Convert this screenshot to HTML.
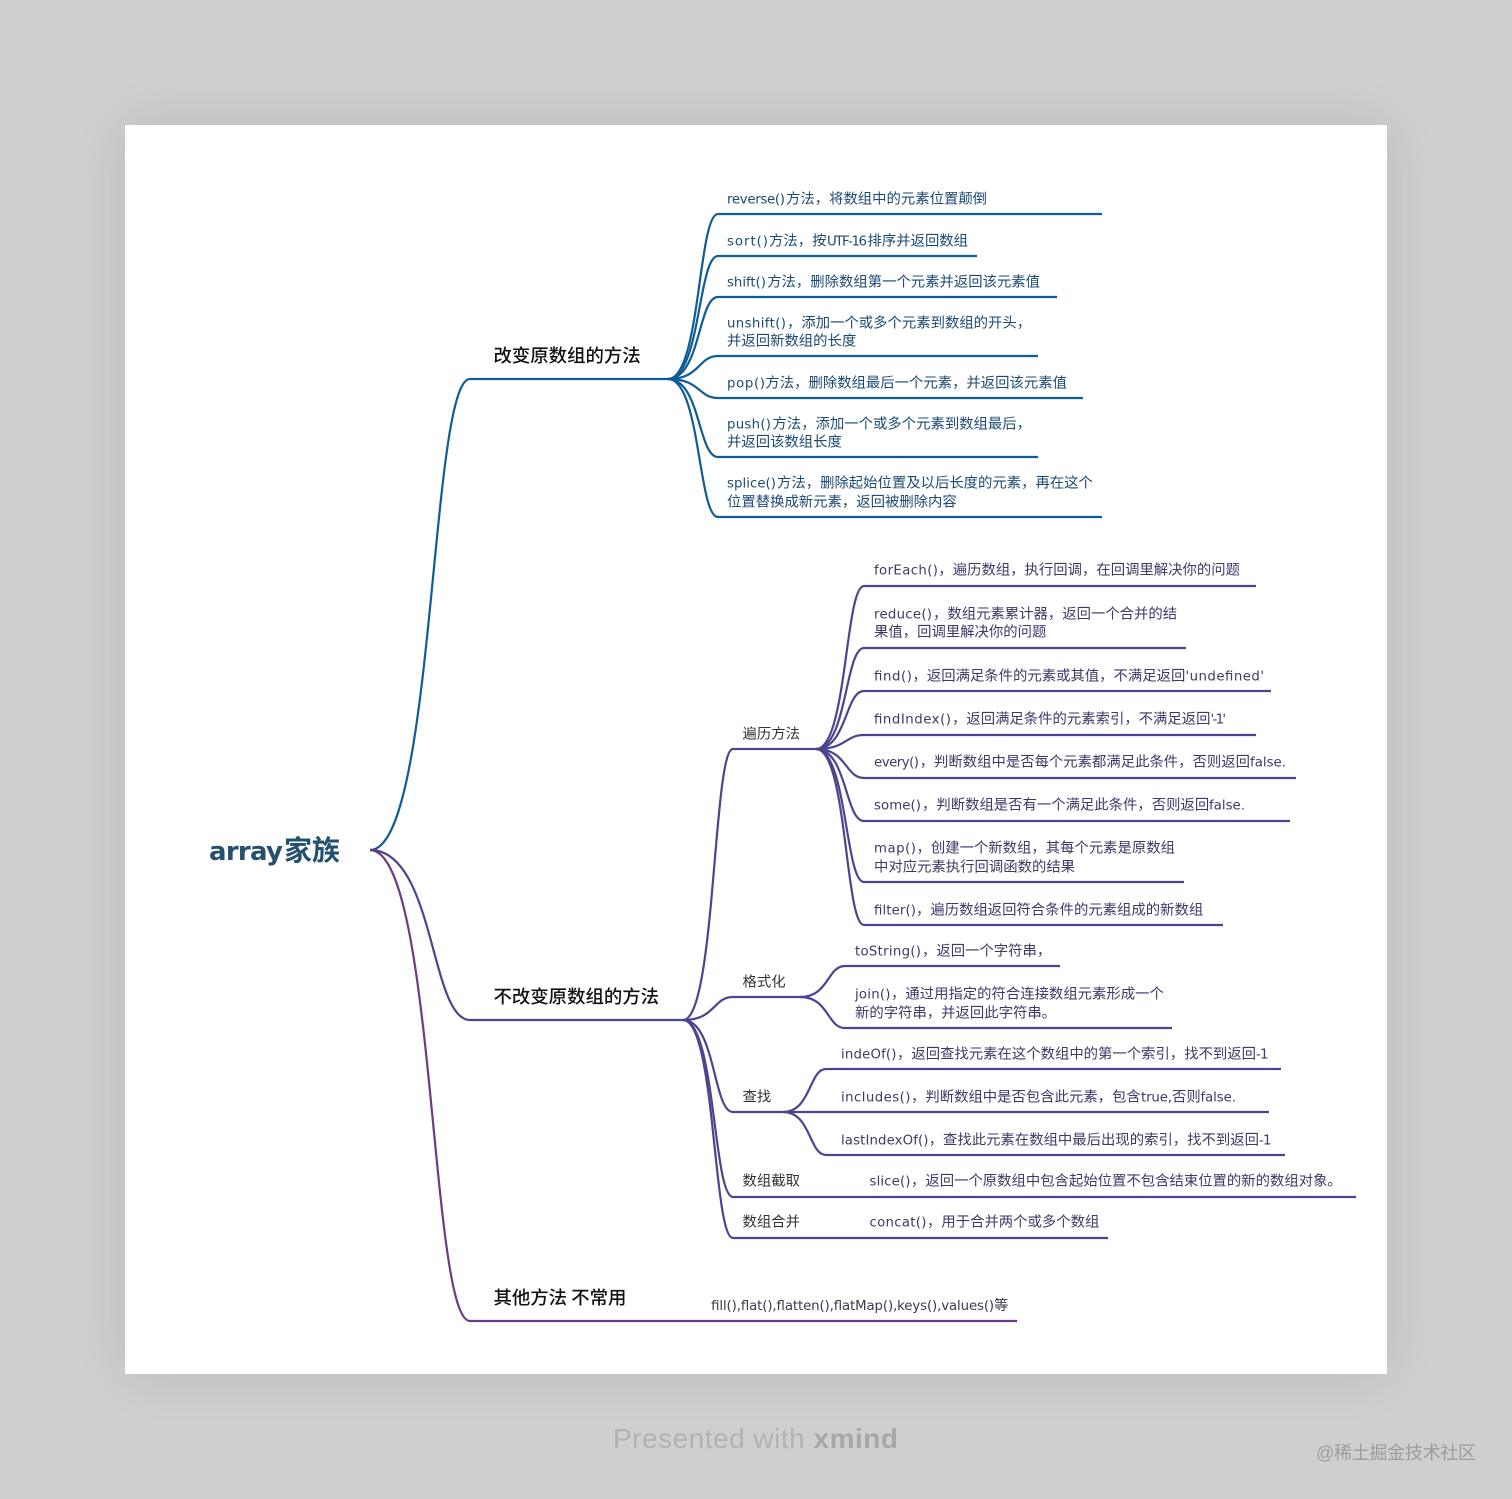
<!DOCTYPE html>
<html lang="zh-CN"><head><meta charset="utf-8"><title>array家族</title>
<style>
html,body{margin:0;padding:0;width:1512px;height:1499px;overflow:hidden;background:#cfcfcf}
#card{position:absolute;left:125px;top:125px;width:1262px;height:1249px;background:#fff;box-shadow:0 0 50px rgba(0,0,0,.10)}
svg{position:absolute;left:0;top:0}
text{font-family:"Liberation Sans","Noto Sans CJK SC",sans-serif;font-size:14.36px;white-space:pre}
.l{font-family:"DejaVu Sans",sans-serif;font-size:13.3px}
.b text{fill:#1d4a75}.p text{fill:#3d3a68}.o text{fill:#3a3a4a}
path{fill:none;stroke-width:2.2}
.sb{stroke:#0f5c96}.sp{stroke:#4b4590}.so{stroke:#6f3a84}
.lab{fill:#333!important}
.h{font-size:18.4px;font-weight:500;fill:#111!important;font-family:"Noto Sans CJK SC",sans-serif}
</style></head><body>
<div id="card"></div>
<svg width="1512" height="1499" viewBox="0 0 1512 1499" xmlns="http://www.w3.org/2000/svg">
<g>
<path class="sb" d="M370 850C435 850 430 379 470 379H668"/>
<path class="sb" d="M668 379C700.500 379 698 214 718 214H1102"/>
<path class="sb" d="M668 379C700.500 379 698 256 718 256H977"/>
<path class="sb" d="M668 379C700.500 379 698 297 718 297H1057"/>
<path class="sb" d="M668 379C700.500 379 698 356 718 356H1038"/>
<path class="sb" d="M668 379C700.500 379 698 398 718 398H1083"/>
<path class="sb" d="M668 379C700.500 379 698 457 718 457H1038"/>
<path class="sb" d="M668 379C700.500 379 698 517 718 517H1102"/>
<path class="sp" d="M370 850C435 850 430 1020 470 1020H683"/>
<path class="sp" d="M683 1020C715.500 1020 713 749 733 749H816"/>
<path class="sp" d="M816 749C847 749 845 586 864 586H1256"/>
<path class="sp" d="M816 749C847 749 845 648 864 648H1186"/>
<path class="sp" d="M816 749C847 749 845 691 864 691H1271"/>
<path class="sp" d="M816 749C847 749 845 735 864 735H1256"/>
<path class="sp" d="M816 749C847 749 845 778 864 778H1296"/>
<path class="sp" d="M816 749C847 749 845 821 864 821H1290"/>
<path class="sp" d="M816 749C847 749 845 882 864 882H1184"/>
<path class="sp" d="M816 749C847 749 845 925 864 925H1223"/>
<path class="sp" d="M683 1020C715.500 1020 713 997 733 997H800"/>
<path class="sp" d="M800 997C829 997 827 966 845 966H1060"/>
<path class="sp" d="M800 997C829 997 827 1028 845 1028H1172"/>
<path class="sp" d="M683 1020C715.500 1020 713 1112 733 1112H783"/>
<path class="sp" d="M783 1112C811 1112 809 1069 826 1069H1281"/>
<path class="sp" d="M783 1112H1269"/>
<path class="sp" d="M783 1112C811 1112 809 1155 826 1155H1285"/>
<path class="sp" d="M683 1020C715.500 1020 713 1197 733 1197H1356"/>
<path class="sp" d="M683 1020C715.500 1020 713 1238 733 1238H1108"/>
<path class="so" d="M370 850C435 850 430 1321 470 1321H1017"/>
</g>
<text x="209" y="860" textLength="74" style="font-family:'DejaVu Sans',sans-serif;font-size:26px;font-weight:700;fill:#24506f">array</text>
<text x="284" y="860" style="font-size:28px;font-weight:700;fill:#24506f">家族</text>
<text class="h" x="493.500" y="362">改变原数组的方法</text>
<text class="h" x="493.500" y="1003">不改变原数组的方法</text>
<text class="h" x="493.500" y="1304">其他方法 不常用</text>
<g class="b" transform="translate(0 .4)">
<text class="l" x="727" y="203" textLength="58">reverse()</text><text x="786" y="203">方法，将数组中的元素位置颠倒</text>
<text class="l" x="727" y="245" textLength="41">sort()</text><text x="769" y="245">方法，按</text><text class="l" x="827" y="245" textLength="40">UTF-16</text><text x="867.500" y="245">排序并返回数组</text>
<text class="l" x="727" y="286" textLength="39">shift()</text><text x="767.200" y="286">方法，删除数组第一个元素并返回该元素值</text>
<text class="l" x="727" y="327" textLength="59">unshift()</text><text x="787" y="327">，添加一个或多个元素到数组的开头，</text>
<text x="727" y="345">并返回新数组的长度</text>
<text class="l" x="727" y="387" textLength="38">pop()</text><text x="765.400" y="387">方法，删除数组最后一个元素，并返回该元素值</text>
<text class="l" x="727" y="428" textLength="44">push()</text><text x="772.500" y="428">方法，添加一个或多个元素到数组最后，</text>
<text x="727" y="446">并返回该数组长度</text>
<text class="l" x="727" y="487" textLength="49">splice()</text><text x="777" y="487">方法，删除起始位置及以后长度的元素，再在这个</text>
<text x="727" y="506">位置替换成新元素，返回被删除内容</text>
</g>
<g class="p" transform="translate(0 .4)">
<text class="lab" x="742.500" y="738">遍历方法</text>
<text class="lab" x="742.500" y="986">格式化</text>
<text class="lab" x="742.500" y="1101">查找</text>
<text class="lab" x="742.500" y="1185">数组截取</text>
<text class="lab" x="742.500" y="1226">数组合并</text>
<text class="l" x="874" y="574" textLength="64">forEach()</text><text x="938.400" y="574">，遍历数组，执行回调，在回调里解决你的问题</text>
<text class="l" x="874" y="618" textLength="58">reduce()</text><text x="933" y="618">，数组元素累计器，返回一个合并的结</text>
<text x="874" y="636">果值，回调里解决你的问题</text>
<text class="l" x="874" y="680" textLength="38">find()</text><text x="912.500" y="680">，返回满足条件的元素或其值，不满足返回</text><text class="l" x="1185.500" y="680" textLength="78.500">'undefined'</text>
<text class="l" x="874" y="723" textLength="77">findIndex()</text><text x="952" y="723">，返回满足条件的元素索引，不满足返回</text><text class="l" x="1210.500" y="723" textLength="15.500">'-1'</text>
<text class="l" x="874" y="766" textLength="45">every()</text><text x="919.700" y="766">，判断数组中是否每个元素都满足此条件，否则返回</text><text class="l" x="1250" y="766" textLength="36">false.</text>
<text class="l" x="874" y="809" textLength="47">some()</text><text x="922" y="809">，判断数组是否有一个满足此条件，否则返回</text><text class="l" x="1209" y="809" textLength="36">false.</text>
<text class="l" x="874" y="852" textLength="42">map()</text><text x="916.500" y="852">，创建一个新数组，其每个元素是原数组</text>
<text x="874" y="871">中对应元素执行回调函数的结果</text>
<text class="l" x="874" y="914" textLength="42">filter()</text><text x="916" y="914">，遍历数组返回符合条件的元素组成的新数组</text>
<text class="l" x="855" y="955" textLength="66">toString()</text><text x="922" y="955">，返回一个字符串，</text>
<text class="l" x="855" y="998" textLength="35.500">join()</text><text x="891" y="998">，通过用指定的符合连接数组元素形成一个</text>
<text x="855" y="1017">新的字符串，并返回此字符串。</text>
<text class="l" x="841" y="1058" textLength="55.500">indeOf()</text><text x="897" y="1058">，返回查找元素在这个数组中的第一个索引，找不到返回</text><text class="l" x="1256" y="1058" textLength="12.500">-1</text>
<text class="l" x="841" y="1101" textLength="69.500">includes()</text><text x="911" y="1101">，判断数组中是否包含此元素，包含</text><text class="l" x="1141" y="1101" textLength="31">true,</text><text x="1172" y="1101">否则</text><text class="l" x="1200.500" y="1101" textLength="35.500">false.</text>
<text class="l" x="841" y="1144" textLength="87.500">lastIndexOf()</text><text x="928.700" y="1144">，查找此元素在数组中最后出现的索引，找不到返回</text><text class="l" x="1259" y="1144" textLength="12.500">-1</text>
<text class="l" x="869.500" y="1185" textLength="41">slice()</text><text x="911" y="1185">，返回一个原数组中包含起始位置不包含结束位置的新的数组对象。</text>
<text class="l" x="869.500" y="1226" textLength="57">concat()</text><text x="927" y="1226">，用于合并两个或多个数组</text>
</g>
<g class="o">
<text class="l" x="711" y="1310" textLength="283">fill(),flat(),flatten(),flatMap(),keys(),values()</text><text x="994" y="1310">等</text>
</g>
<text x="613" y="1448" textLength="285" style="font-family:'Liberation Sans',sans-serif;font-size:28px;fill:#b2b2b2">Presented with <tspan style="font-weight:700;fill:#a8a8a8">xmind</tspan></text>
<text x="1316" y="1459" textLength="160" style="font-size:18px;fill:#9c9c9c">@稀土掘金技术社区</text>
</svg>
</body></html>
